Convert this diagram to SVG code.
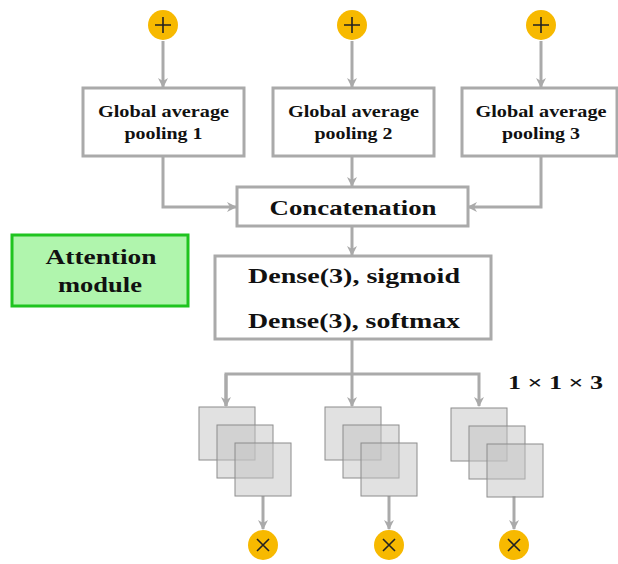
<svg xmlns="http://www.w3.org/2000/svg" width="618" height="564" viewBox="0 0 618 564">
<style>
.box{fill:#fff;stroke:#aaa;stroke-width:3}
.att{fill:#b0f5ad;stroke:#1fc41f;stroke-width:3}
.ln{fill:none;stroke:#aaa;stroke-width:3}
.op{fill:#f7b900}
.sym{stroke:#222;stroke-width:1.6;fill:none}
.sq{fill:#c4c4c4;fill-opacity:0.5;stroke:#8c8c8c;stroke-width:1}
.t{font-family:"Liberation Serif","DejaVu Serif",serif;font-weight:bold;fill:#111;text-anchor:middle}
.s{font-size:17.5px}
.b{font-size:22px}
</style>
<defs>
<marker id="ah" markerWidth="10" markerHeight="10" refX="9" refY="5" orient="auto" markerUnits="userSpaceOnUse"><path d="M0,0 L10,5 L0,10 L3,5 Z" fill="#aaa"/></marker>
</defs>
<g id="connectors">
<path class="ln" d="M163,41 V87" marker-end="url(#ah)"/>
<path class="ln" d="M352,41 V87" marker-end="url(#ah)"/>
<path class="ln" d="M541,41 V87" marker-end="url(#ah)"/>
<path class="ln" d="M163,156 V207 H236" marker-end="url(#ah)"/>
<path class="ln" d="M352,156 V186" marker-end="url(#ah)"/>
<path class="ln" d="M541,156 V207 H468" marker-end="url(#ah)"/>
<path class="ln" d="M352,226 V255" marker-end="url(#ah)"/>
<path class="ln" d="M352,339 V374"/>
<path class="ln" d="M226,406 V374 H479 V406" marker-end="url(#ah)"/>
<path class="ln" d="M352,374 V406" marker-end="url(#ah)"/>
<path class="ln" d="M226,374 V406" marker-end="url(#ah)"/>
<path class="ln" d="M263,496 V529" marker-end="url(#ah)"/>
<path class="ln" d="M389,496 V529" marker-end="url(#ah)"/>
<path class="ln" d="M514,496 V529" marker-end="url(#ah)"/>
</g>
<g id="add1"><circle class="op" cx="163" cy="25" r="15"/><path class="sym" d="M155,25 H171 M163,17 V33"/></g>
<g id="add2"><circle class="op" cx="352" cy="25" r="15"/><path class="sym" d="M344,25 H360 M352,17 V33"/></g>
<g id="add3"><circle class="op" cx="541" cy="25" r="15"/><path class="sym" d="M533,25 H549 M541,17 V33"/></g>
<g id="gap1"><rect class="box" x="83" y="88" width="161" height="68"/><text class="t s" x="163.5" y="117" textLength="131" lengthAdjust="spacingAndGlyphs">Global average</text><text class="t s" x="163.5" y="139" textLength="78" lengthAdjust="spacingAndGlyphs">pooling 1</text></g>
<g id="gap2"><rect class="box" x="273" y="88" width="161" height="68"/><text class="t s" x="353.5" y="117" textLength="131" lengthAdjust="spacingAndGlyphs">Global average</text><text class="t s" x="353.5" y="139" textLength="78" lengthAdjust="spacingAndGlyphs">pooling 2</text></g>
<g id="gap3"><rect class="box" x="462" y="88" width="155" height="68"/><text class="t s" x="541" y="117" textLength="131" lengthAdjust="spacingAndGlyphs">Global average</text><text class="t s" x="541" y="139" textLength="78" lengthAdjust="spacingAndGlyphs">pooling 3</text></g>
<g id="concat"><rect class="box" x="237" y="187" width="231" height="39"/><text class="t b" x="353" y="215" textLength="167" lengthAdjust="spacingAndGlyphs">Concatenation</text></g>
<g id="dense"><rect class="box" x="215" y="256" width="276" height="83"/><text class="t b" x="354" y="283" textLength="212" lengthAdjust="spacingAndGlyphs">Dense(3), sigmoid</text><text class="t b" x="354" y="328" textLength="212" lengthAdjust="spacingAndGlyphs">Dense(3), softmax</text></g>
<g id="attention"><rect class="att" x="12" y="235" width="176" height="71"/><text class="t b" x="101" y="264" textLength="111" lengthAdjust="spacingAndGlyphs">Attention</text><text class="t b" x="100" y="292" textLength="84" lengthAdjust="spacingAndGlyphs">module</text></g>
<g id="maps1"><rect class="sq" x="199" y="407" width="56" height="53"/><rect class="sq" x="217" y="425" width="56" height="53"/><rect class="sq" x="235" y="443" width="56" height="53"/></g>
<g id="maps2"><rect class="sq" x="325" y="407" width="56" height="53"/><rect class="sq" x="343" y="425" width="56" height="53"/><rect class="sq" x="361" y="443" width="56" height="53"/></g>
<g id="maps3"><rect class="sq" x="451" y="408" width="56" height="53"/><rect class="sq" x="469" y="426" width="56" height="53"/><rect class="sq" x="487" y="444" width="56" height="53"/></g>
<g id="mul1"><circle class="op" cx="263" cy="545" r="15"/><path class="sym" d="M257,539 L269,551 M269,539 L257,551"/></g>
<g id="mul2"><circle class="op" cx="389" cy="545" r="15"/><path class="sym" d="M383,539 L395,551 M395,539 L383,551"/></g>
<g id="mul3"><circle class="op" cx="514" cy="545" r="15"/><path class="sym" d="M508,539 L520,551 M520,539 L508,551"/></g>
<text class="t" x="555.5" y="389" style="font-size:19px" textLength="95" lengthAdjust="spacingAndGlyphs">1 × 1 × 3</text>
</svg>
